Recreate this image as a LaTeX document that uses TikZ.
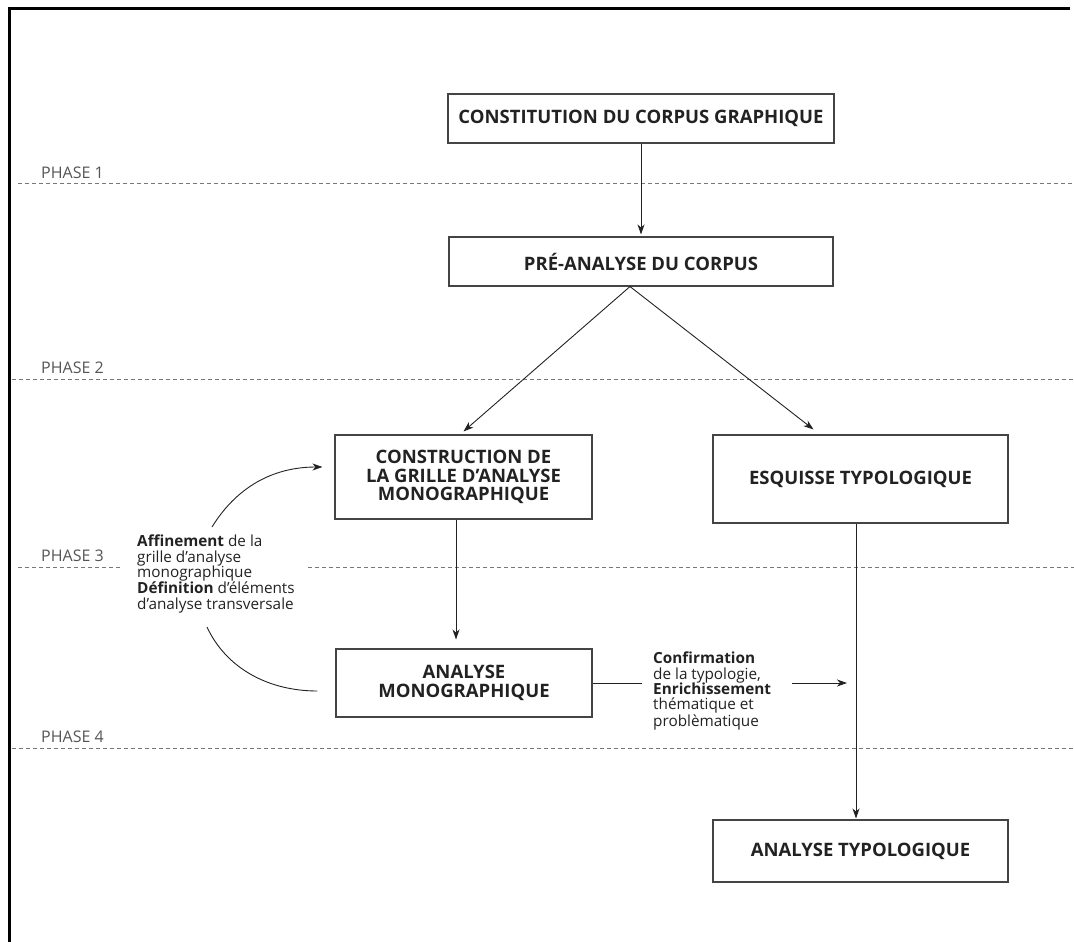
\documentclass[tikz,border=0pt]{standalone}
\usepackage{fontspec}
\setmainfont{Open Sans}
\usetikzlibrary{arrows.meta}
\definecolor{boxline}{HTML}{444444}
\definecolor{txt}{HTML}{222222}
\definecolor{phasecol}{HTML}{555555}
\definecolor{dashcol}{HTML}{777777}
\tikzset{
  stagebox/.style={draw=boxline, line width=1.1pt, text=txt, align=center,
    inner sep=0pt, font=\fontsize{18.5}{18.5}\selectfont\bfseries},
  arr/.style={draw=txt, line width=0.9pt, -{Stealth[length=10pt,width=7pt,inset=3pt]}},
  plain/.style={draw=txt, line width=0.9pt},
  phaseline/.style={draw=dashcol, line width=1pt, dash pattern=on 4pt off 3pt},
  phaselabel/.style={text=phasecol, inner sep=0pt, anchor=base west, font=\fontsize{16}{18}\selectfont},
  note/.style={text=txt, inner sep=0pt, align=left, font=\fontsize{15.3}{15.3}\selectfont}
}
\begin{document}
\begin{tikzpicture}[x=1pt,y=-1pt]
\useasboundingbox (0,0) rectangle (1074,942);
% frame
\draw[line width=3pt] (9.7,942) -- (9.7,8.5) -- (1070,8.5);
% phase lines
\draw[phaseline] (18,183) -- (1074,183);
\draw[phaseline] (12,379) -- (1074,379);
\draw[phaseline] (18,567) -- (122,567);
\draw[phaseline] (308,567) -- (1074,567);
\draw[phaseline] (12,748) -- (1074,748);
\node[phaselabel] (p1) at (41,178.5) {PHASE 1};
\node[phaselabel] (p2) at (41,373.5) {PHASE 2};
\node[phaselabel] (p3) at (41,561.5) {PHASE 3};
\node[phaselabel] (p4) at (41,742.5) {PHASE 4};
% boxes
\node[stagebox, minimum width=386pt, minimum height=49pt] (constitution) at (641,118.5) {CONSTITUTION DU CORPUS GRAPHIQUE};
\node[stagebox, minimum width=384pt, minimum height=49pt] (preanalyse) at (641,261.5) {PRÉ-ANALYSE DU CORPUS};
\node[stagebox, minimum width=257pt, minimum height=84pt] (construction) at (463.5,477) {CONSTRUCTION DE\\LA GRILLE D’ANALYSE\\MONOGRAPHIQUE};
\node[stagebox, minimum width=295pt, minimum height=88pt] (esquisse) at (860.5,479) {ESQUISSE TYPOLOGIQUE};
\node[stagebox, minimum width=256pt, minimum height=68pt] (monographique) at (464,683) {ANALYSE\\MONOGRAPHIQUE};
\node[stagebox, minimum width=295pt, minimum height=62pt] (typologique) at (860.5,851) {ANALYSE TYPOLOGIQUE};
% notes
\node[note, anchor=north west] (aff) at (137,535) {\textbf{Affinement} de la\\grille d’analyse\\monographique\\\textbf{Définition} d’éléments\\d’analyse transversale};
\node[note, anchor=north west] (conf) at (653,652) {\textbf{Confirmation}\\de la typologie,\\\textbf{Enrichissement}\\thématique et\\problèmatique};
% connectors
\draw[arr] (constitution.south) -- ([yshift=2pt]preanalyse.north);
\coordinate (split) at ([xshift=-11pt]preanalyse.south);
\draw[arr] (split) -- ([yshift=3pt]construction.north);
\draw[arr] (split) -- ([xshift=-47pt,yshift=5pt]esquisse.north);
\draw[arr] ([xshift=-7.5pt]construction.south) -- ([xshift=-8pt,yshift=9pt]monographique.north);
\draw[arr] ([xshift=-4.5pt]esquisse.south) -- ([xshift=-4.5pt,yshift=1pt]typologique.north);
\coordinate (confin) at ([xshift=-11pt]conf.west |- monographique.east);
\draw[plain] (monographique.east) -- (confin);
\coordinate (confout1) at (792,683);
\coordinate (confout2) at (847,683);
\draw[arr] (confout1) -- (confout2);
\coordinate (affstart) at (212,527);
\coordinate (affend) at ([xshift=-12pt,yshift=10pt]construction.west);
\draw[arr] (affstart) .. controls (236,488) and (272,467) .. (affend);
\coordinate (defstart) at (207,627);
\coordinate (defend) at ([xshift=-18pt,yshift=-8pt]monographique.west);
\draw[plain] (defstart) .. controls (226,668) and (268,691) .. (defend);
\end{tikzpicture}
\end{document}
